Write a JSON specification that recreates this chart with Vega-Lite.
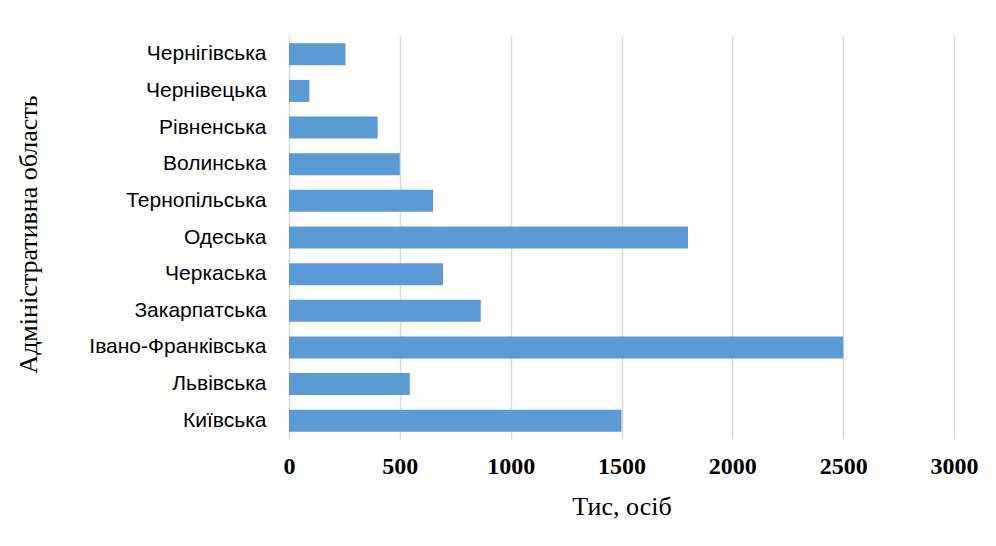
{
  "$schema": "https://vega.github.io/schema/vega-lite/v6.json",
  "autosize": {"type": "none"},
  "width": 665,
  "height": 403,
  "padding": {"left": 289, "top": 36, "right": 42, "bottom": 107},
  "background": "#ffffff",
  "config": {"view": {"stroke": null}},
  "data": {
    "values": [
      {"region": "Чернігівська", "value": 255},
      {"region": "Чернівецька", "value": 92},
      {"region": "Рівненська", "value": 400},
      {"region": "Волинська", "value": 500},
      {"region": "Тернопільська", "value": 650},
      {"region": "Одеська", "value": 1800},
      {"region": "Черкаська", "value": 695},
      {"region": "Закарпатська", "value": 865},
      {"region": "Івано-Франківська", "value": 2500},
      {"region": "Львівська", "value": 545},
      {"region": "Київська", "value": 1500}
    ]
  },
  "mark": {"type": "bar", "color": "#5b9bd5"},
  "encoding": {
    "y": {
      "field": "region",
      "type": "nominal",
      "sort": null,
      "scale": {"paddingInner": 0.4, "paddingOuter": 0.2},
      "axis": {
        "title": "Адміністративна область",
        "titleFont": "Liberation Serif",
        "titleFontSize": 26,
        "titleFontWeight": "normal",
        "titleColor": "#000000",
        "titleAngle": -90,
        "titleX": -261,
        "titleY": 198,
        "titleAlign": "center",
        "titleBaseline": "middle",
        "labelFont": "Liberation Sans",
        "labelFontSize": 21,
        "labelColor": "#000000",
        "labelPadding": 23,
        "labelLimit": 300,
        "domain": false,
        "ticks": false,
        "grid": false
      }
    },
    "x": {
      "field": "value",
      "type": "quantitative",
      "scale": {"domain": [0, 3000], "nice": false},
      "axis": {
        "title": "Тис, осіб",
        "titleFont": "Liberation Serif",
        "titleFontSize": 26,
        "titleFontWeight": "normal",
        "titleColor": "#000000",
        "titleY": 75,
        "titleBaseline": "alphabetic",
        "values": [0, 500, 1000, 1500, 2000, 2500, 3000],
        "format": "d",
        "labelFont": "Liberation Serif",
        "labelFontSize": 24,
        "labelFontWeight": "bold",
        "labelColor": "#000000",
        "labelPadding": 15,
        "labelFlush": false,
        "domain": false,
        "ticks": false,
        "grid": true,
        "gridColor": "#d9d9d9",
        "gridWidth": 1.5
      }
    }
  }
}
